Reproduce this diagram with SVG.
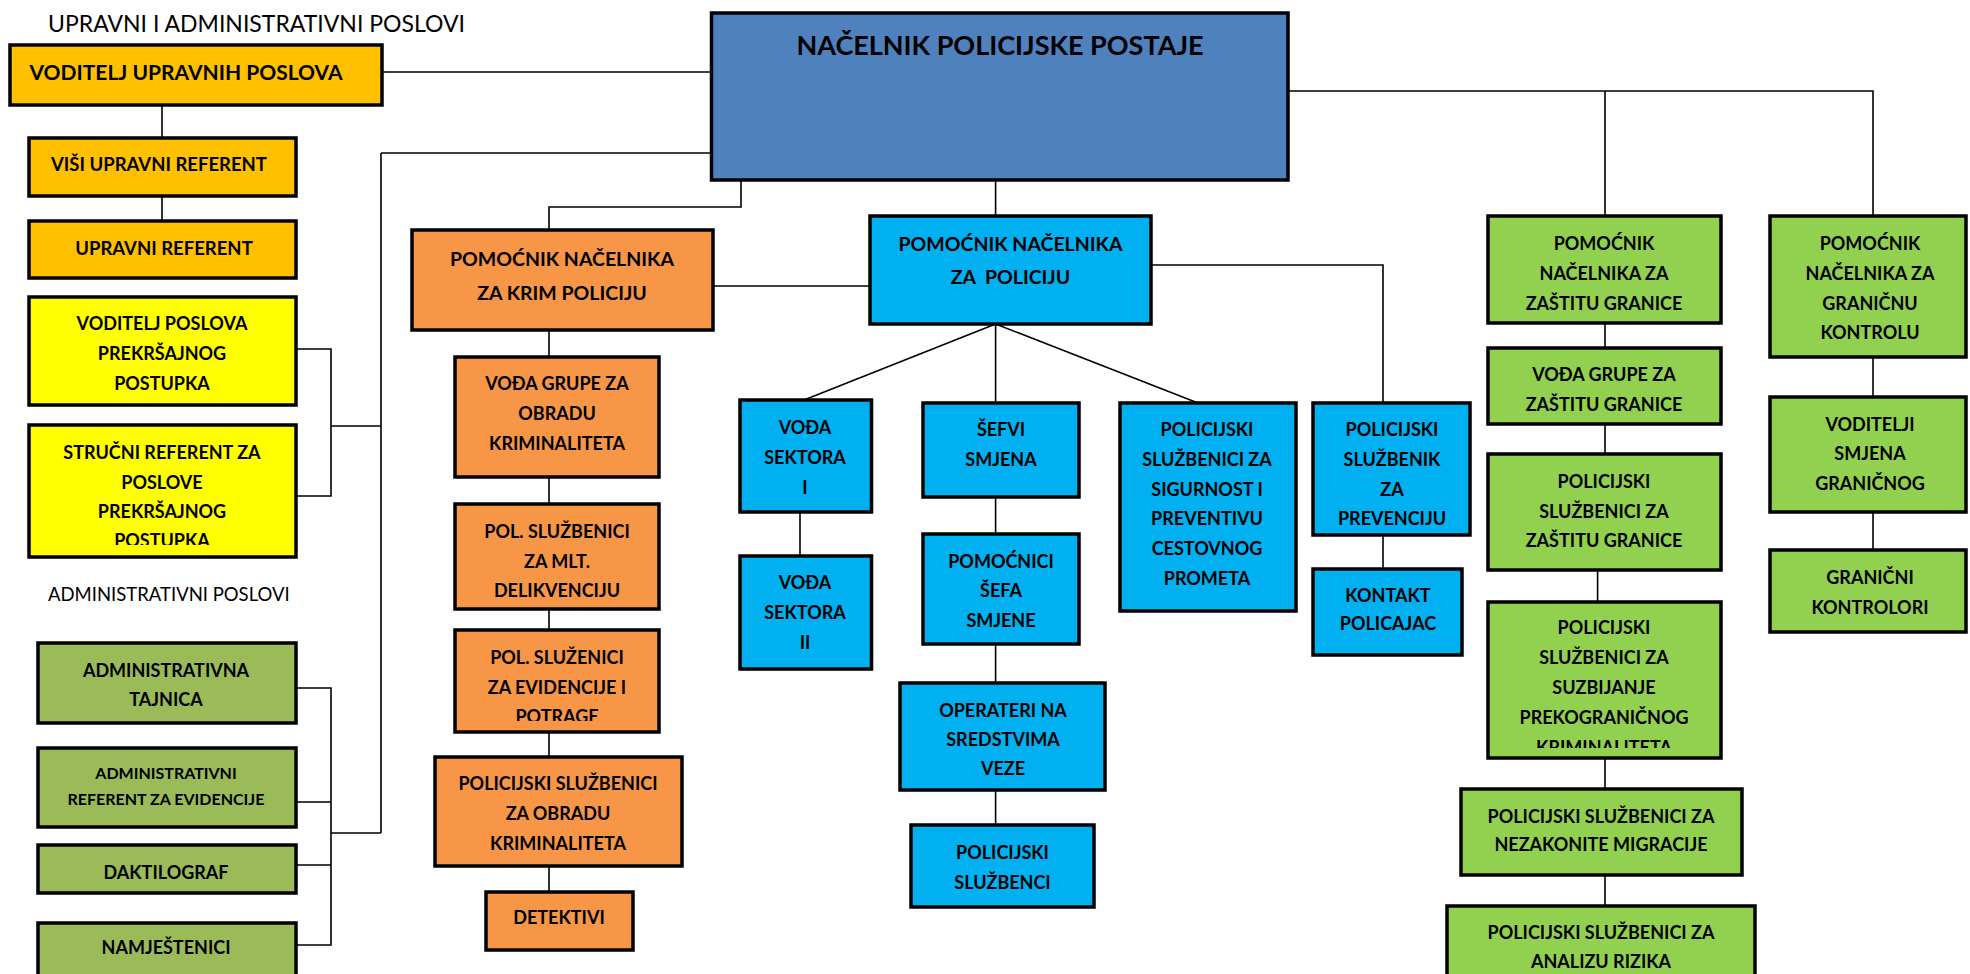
<svg xmlns="http://www.w3.org/2000/svg" width="1970" height="974" viewBox="0 0 1970 974">
<style>
.b{stroke:#000;stroke-width:3.5}
.t{font-family:Lato,"Liberation Sans",sans-serif;font-weight:bold;font-size:18px;text-anchor:middle;fill:#000}
.r{font-family:Lato,"Liberation Sans",sans-serif;font-weight:normal;fill:#000}
.c{fill:none;stroke:#000;stroke-width:1.6}
.or{fill:#FFC000}.ye{fill:#FFFF00}.ol{fill:#9BBB59}.og{fill:#F79646}.bl{fill:#00B0F0}.gr{fill:#92D050}
</style>
<defs>
<clipPath id="cp5"><rect x="29" y="425" width="267" height="120"/></clipPath>
<clipPath id="cp13"><rect x="455" y="630" width="204" height="91"/></clipPath>
<clipPath id="cp30"><rect x="1488" y="602" width="233" height="146"/></clipPath>
</defs>
<rect width="1970" height="974" fill="#fff"/>
<text class="r" x="48" y="32" style="font-size:23px">UPRAVNI I ADMINISTRATIVNI POSLOVI</text>
<text class="r" x="48" y="601" style="font-size:18.5px">ADMINISTRATIVNI POSLOVI</text>
<g id="connectors" class="c">
<path d="M382,72H711.5"/>
<path d="M162,106V138M162,196V221"/>
<path d="M381,153H711.5M381,153V833"/>
<path d="M296,349H331V496H296M331,426H381"/>
<path d="M296,688H331V945H296M296,802H331M296,865H331M331,833H381"/>
<path d="M741,180V207H549V230"/>
<path d="M713,286H870"/>
<path d="M549,330V357M549,477V504M549,609V630M549,732V757M549,866V892"/>
<path d="M995.6,180V216"/>
<path d="M995.6,324L804,400M995.6,324V403M995.6,324L1198,403"/>
<path d="M800,512V556"/>
<path d="M995.6,497V534M995.6,644V683M995.6,790V825"/>
<path d="M1151,265H1383V403M1383,535V569"/>
<path d="M1288,91H1873V216M1605,91V216"/>
<path d="M1605,323V348M1605,424V454M1597.6,570V602M1605,758V789M1605,875V906"/>
<path d="M1873,357V397M1873,512V550"/>
</g>
<g id="n1"><rect class="b or" x="10" y="45" width="372" height="60"/><text class="t" x="186" y="79.5" style="font-size:21px">VODITELJ UPRAVNIH POSLOVA</text></g>
<g id="n2"><rect class="b or" x="29" y="138" width="267" height="58"/><text class="t" x="159" y="171" style="font-size:18.5px">VIŠI UPRAVNI REFERENT</text></g>
<g id="n3"><rect class="b or" x="29" y="221" width="267" height="57"/><text class="t" x="164" y="255" style="font-size:18.5px">UPRAVNI REFERENT</text></g>
<g id="n4"><rect class="b ye" x="29" y="297" width="267" height="108"/><text class="t" x="162"><tspan x="162" y="329.5">VODITELJ POSLOVA</tspan><tspan x="162" y="359.5">PREKRŠAJNOG</tspan><tspan x="162" y="389.5">POSTUPKA</tspan></text></g>
<g id="n5"><rect class="b ye" x="29" y="425" width="267" height="132"/><text class="t" x="162" clip-path="url(#cp5)"><tspan x="162" y="458.5">STRUČNI REFERENT ZA</tspan><tspan x="162" y="488.5">POSLOVE</tspan><tspan x="162" y="517.5">PREKRŠAJNOG</tspan><tspan x="162" y="546.5">POSTUPKA</tspan></text></g>
<g id="n6"><rect class="b ol" x="38" y="643" width="258" height="80"/><text class="t" x="166"><tspan x="166" y="676.5">ADMINISTRATIVNA</tspan><tspan x="166" y="705.5">TAJNICA</tspan></text></g>
<g id="n7"><rect class="b ol" x="38" y="748" width="258" height="79"/><text class="t" x="166" style="font-size:16px"><tspan x="166" y="779">ADMINISTRATIVNI</tspan><tspan x="166" y="805">REFERENT ZA EVIDENCIJE</tspan></text></g>
<g id="n8"><rect class="b ol" x="38" y="845" width="258" height="48"/><text class="t" x="166" y="878.5">DAKTILOGRAF</text></g>
<g id="n9"><rect class="b ol" x="38" y="923" width="258" height="60"/><text class="t" x="166" y="953.5">NAMJEŠTENICI</text></g>
<g id="n10"><rect class="b og" x="412" y="230" width="301" height="100"/><text class="t" x="562" style="font-size:19.5px"><tspan x="562" y="266">POMOĆNIK NAČELNIKA</tspan><tspan x="562" y="300">ZA KRIM POLICIJU</tspan></text></g>
<g id="n11"><rect class="b og" x="455" y="357" width="204" height="120"/><text class="t" x="557"><tspan x="557" y="389.5">VOĐA GRUPE ZA</tspan><tspan x="557" y="419.5">OBRADU</tspan><tspan x="557" y="449.5">KRIMINALITETA</tspan></text></g>
<g id="n12"><rect class="b og" x="455" y="504" width="204" height="105"/><text class="t" x="557"><tspan x="557" y="537.5">POL. SLUŽBENICI</tspan><tspan x="557" y="567.5">ZA MLT.</tspan><tspan x="557" y="596.5">DELIKVENCIJU</tspan></text></g>
<g id="n13"><rect class="b og" x="455" y="630" width="204" height="102"/><text class="t" x="557" clip-path="url(#cp13)"><tspan x="557" y="663.5">POL. SLUŽENICI</tspan><tspan x="557" y="693.5">ZA EVIDENCIJE I</tspan><tspan x="557" y="722.5">POTRAGE</tspan></text></g>
<g id="n14"><rect class="b og" x="435" y="757" width="247" height="109"/><text class="t" x="558"><tspan x="558" y="789.5">POLICIJSKI SLUŽBENICI</tspan><tspan x="558" y="819.5">ZA OBRADU</tspan><tspan x="558" y="849.5">KRIMINALITETA</tspan></text></g>
<g id="n15"><rect class="b og" x="486" y="892" width="147" height="58"/><text class="t" x="559" y="923.5">DETEKTIVI</text></g>
<g id="n16"><rect class="b" fill="#4F81BD" x="711.5" y="13" width="576.5" height="167"/><text class="t" x="1000" y="55" style="font-size:27px">NAČELNIK POLICIJSKE POSTAJE</text></g>
<g id="n17"><rect class="b bl" x="870" y="216" width="281" height="108"/><text class="t" x="1010.5" style="font-size:19.5px;white-space:pre" xml:space="preserve"><tspan x="1010.5" y="251">POMOĆNIK NAČELNIKA</tspan><tspan x="1010.5" y="284">ZA  POLICIJU</tspan></text></g>
<g id="n18"><rect class="b bl" x="740" y="400" width="131.5" height="112"/><text class="t" x="805"><tspan x="805" y="433.5">VOĐA</tspan><tspan x="805" y="463.5">SEKTORA</tspan><tspan x="805" y="493.5">I</tspan></text></g>
<g id="n19"><rect class="b bl" x="740" y="556" width="131.5" height="113"/><text class="t" x="805"><tspan x="805" y="588.5">VOĐA</tspan><tspan x="805" y="618.5">SEKTORA</tspan><tspan x="805" y="648.5">II</tspan></text></g>
<g id="n20"><rect class="b bl" x="923" y="403" width="156" height="94"/><text class="t" x="1001"><tspan x="1001" y="435.5">ŠEFVI</tspan><tspan x="1001" y="465.5">SMJENA</tspan></text></g>
<g id="n21"><rect class="b bl" x="923" y="534" width="156" height="110"/><text class="t" x="1001"><tspan x="1001" y="567.5">POMOĆNICI</tspan><tspan x="1001" y="596.5">ŠEFA</tspan><tspan x="1001" y="626.5">SMJENE</tspan></text></g>
<g id="n22"><rect class="b bl" x="900" y="683" width="205" height="107"/><text class="t" x="1003"><tspan x="1003" y="716.5">OPERATERI NA</tspan><tspan x="1003" y="745.5">SREDSTVIMA</tspan><tspan x="1003" y="774.5">VEZE</tspan></text></g>
<g id="n23"><rect class="b bl" x="911" y="825" width="183" height="82"/><text class="t" x="1002.5"><tspan x="1002.5" y="858.5">POLICIJSKI</tspan><tspan x="1002.5" y="888.5">SLUŽBENCI</tspan></text></g>
<g id="n24"><rect class="b bl" x="1120" y="403" width="176" height="208"/><text class="t" x="1207"><tspan x="1207" y="435.5">POLICIJSKI</tspan><tspan x="1207" y="465.5">SLUŽBENICI ZA</tspan><tspan x="1207" y="495.5">SIGURNOST I</tspan><tspan x="1207" y="524.5">PREVENTIVU</tspan><tspan x="1207" y="554.5">CESTOVNOG</tspan><tspan x="1207" y="584.5">PROMETA</tspan></text></g>
<g id="n25"><rect class="b bl" x="1313" y="403" width="157" height="132"/><text class="t" x="1392"><tspan x="1392" y="435.5">POLICIJSKI</tspan><tspan x="1392" y="465.5">SLUŽBENIK</tspan><tspan x="1392" y="495.5">ZA</tspan><tspan x="1392" y="524.5">PREVENCIJU</tspan></text></g>
<g id="n26"><rect class="b bl" x="1313" y="569" width="149" height="86"/><text class="t" x="1388"><tspan x="1388" y="601.5">KONTAKT</tspan><tspan x="1388" y="629.5">POLICAJAC</tspan></text></g>
<g id="n27"><rect class="b gr" x="1488" y="216" width="233" height="107"/><text class="t" x="1604"><tspan x="1604" y="249.5">POMOĆNIK</tspan><tspan x="1604" y="279.5">NAČELNIKA ZA</tspan><tspan x="1604" y="309.5">ZAŠTITU GRANICE</tspan></text></g>
<g id="n28"><rect class="b gr" x="1488" y="348" width="233" height="76"/><text class="t" x="1604"><tspan x="1604" y="380.5">VOĐA GRUPE ZA</tspan><tspan x="1604" y="410.5">ZAŠTITU GRANICE</tspan></text></g>
<g id="n29"><rect class="b gr" x="1488" y="454" width="233" height="116"/><text class="t" x="1604"><tspan x="1604" y="487.5">POLICIJSKI</tspan><tspan x="1604" y="517.5">SLUŽBENICI ZA</tspan><tspan x="1604" y="546.5">ZAŠTITU GRANICE</tspan></text></g>
<g id="n30"><rect class="b gr" x="1488" y="602" width="233" height="156"/><text class="t" x="1604" clip-path="url(#cp30)"><tspan x="1604" y="633.5">POLICIJSKI</tspan><tspan x="1604" y="663.5">SLUŽBENICI ZA</tspan><tspan x="1604" y="693.5">SUZBIJANJE</tspan><tspan x="1604" y="723.5">PREKOGRANIČNOG</tspan><tspan x="1604" y="753.5">KRIMINALITETA</tspan></text></g>
<g id="n31"><rect class="b gr" x="1461" y="789" width="281" height="86"/><text class="t" x="1601"><tspan x="1601" y="822.5">POLICIJSKI SLUŽBENICI ZA</tspan><tspan x="1601" y="850.5">NEZAKONITE MIGRACIJE</tspan></text></g>
<g id="n32"><rect class="b gr" x="1447" y="906" width="308" height="80"/><text class="t" x="1601"><tspan x="1601" y="938.5">POLICIJSKI SLUŽBENICI ZA</tspan><tspan x="1601" y="967.5">ANALIZU RIZIKA</tspan></text></g>
<g id="n33"><rect class="b gr" x="1770" y="216" width="196" height="141"/><text class="t" x="1870"><tspan x="1870" y="249.5">POMOĆNIK</tspan><tspan x="1870" y="279.5">NAČELNIKA ZA</tspan><tspan x="1870" y="309.5">GRANIČNU</tspan><tspan x="1870" y="338.5">KONTROLU</tspan></text></g>
<g id="n34"><rect class="b gr" x="1770" y="397" width="196" height="115"/><text class="t" x="1870"><tspan x="1870" y="430.5">VODITELJI</tspan><tspan x="1870" y="459.5">SMJENA</tspan><tspan x="1870" y="489.5">GRANIČNOG</tspan></text></g>
<g id="n35"><rect class="b gr" x="1770" y="550" width="196" height="82"/><text class="t" x="1870"><tspan x="1870" y="583.5">GRANIČNI</tspan><tspan x="1870" y="613.5">KONTROLORI</tspan></text></g>
</svg>
